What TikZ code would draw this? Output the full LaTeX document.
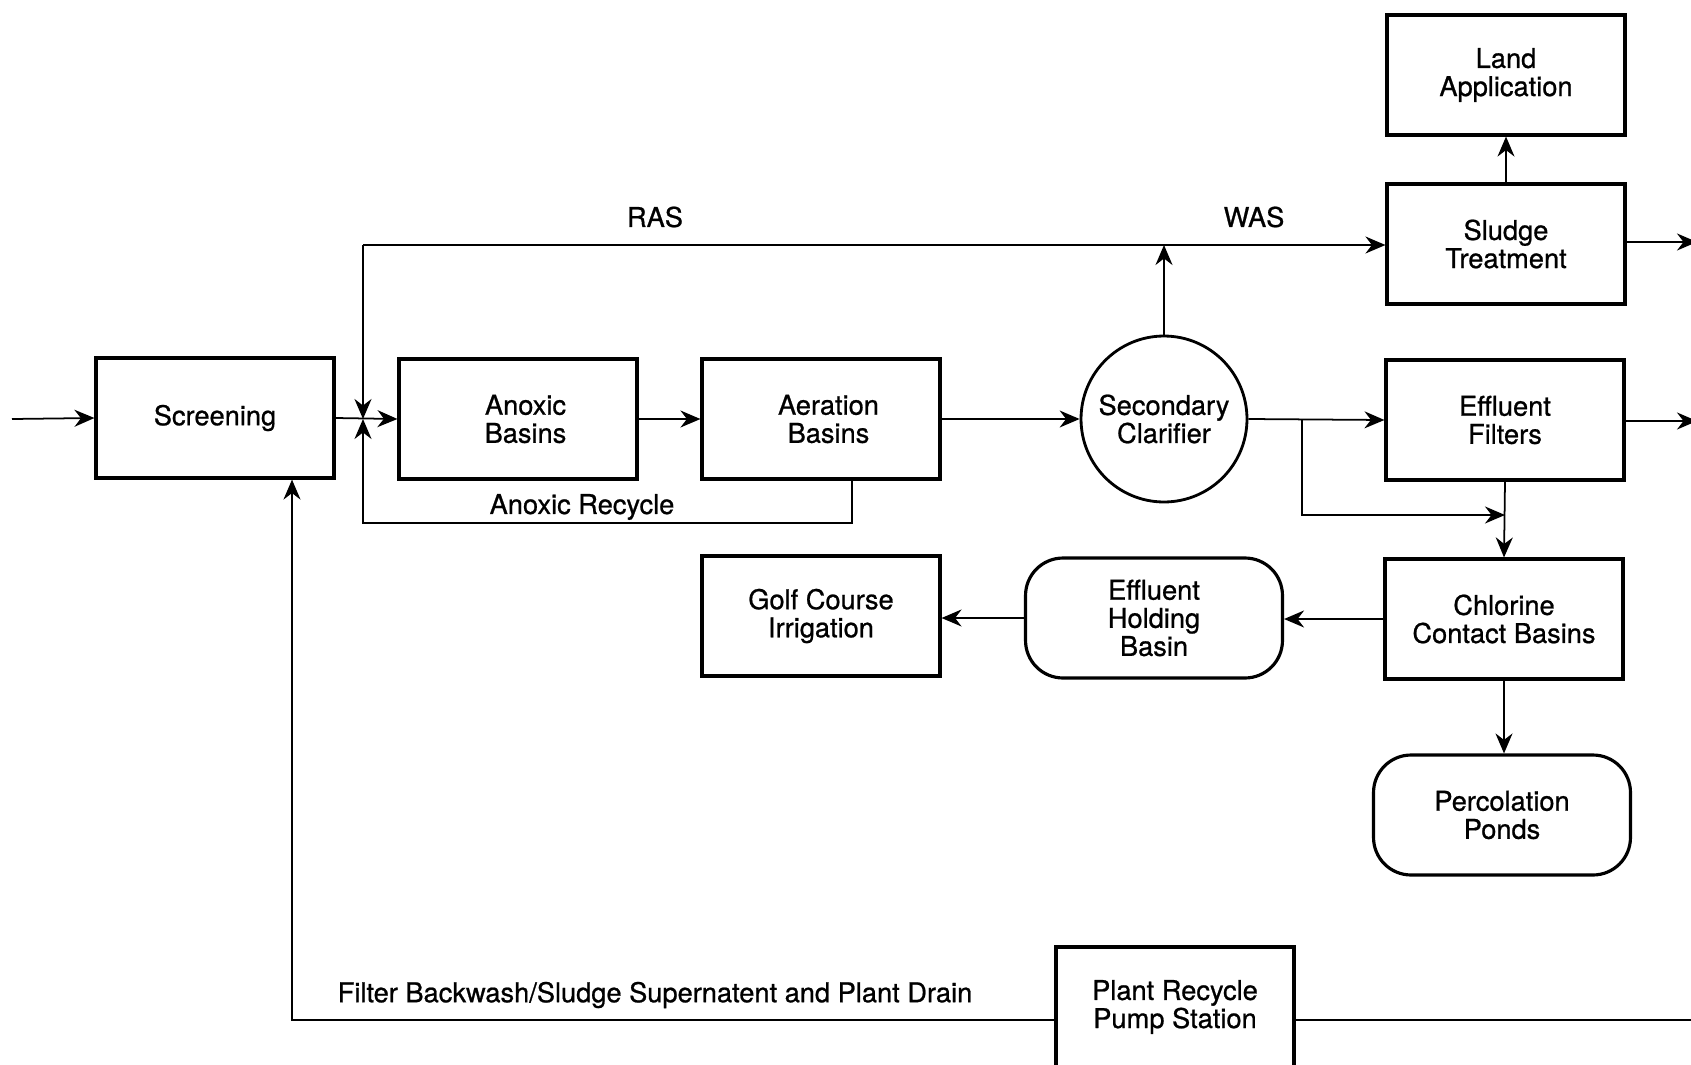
\documentclass[tikz,border=0pt]{standalone}
\usepackage{fontspec}
\setmainfont{TeX Gyre Heros}[FakeBold=0.8]
\usetikzlibrary{arrows.meta}

\begin{document}
\begin{tikzpicture}
        [x=0.02cm,y=-0.02cm,
         every node/.style={font=\fontsize{15.5}{16}\selectfont,align=center,inner sep=0},
         box/.style={draw,line width=1.8pt,minimum width=4.76cm,minimum height=2.4cm},
         pond/.style={box,rounded corners=0.75cm,minimum width=5.14cm},
         tank/.style={draw,circle,line width=1.6pt,minimum size=3.32cm},
         pipe/.style={line width=1pt},
         flow/.style={pipe,-{Stealth[length=0.4cm,width=0.34cm,inset=0.13cm]}}]

        \useasboundingbox (0,0) rectangle (1691,1065);

        \node[box] (scr) at (215, 418) {Screening};
        \node[box] (anox) at (518, 419) {\hspace*{0.3cm}Anoxic\\\hspace*{0.3cm}Basins};
        \node[box] (aer) at (821, 419) {\hspace*{0.3cm}Aeration\\\hspace*{0.3cm}Basins};
        \node[tank] (clar) at (1164, 419) {Secondary\\Clarifier};
        \node[box] (filt) at (1505, 420) {Effluent\\Filters};
        \node[box] (sludge) at (1506, 244) {Sludge\\Treatment};
        \node[box] (land) at (1506, 75) {Land\\Application};
        \node[box] (chl) at (1504, 619) {Chlorine\\Contact Basins};
        \node[pond] (hold) at (1154, 618) {Effluent\\Holding\\Basin};
        \node[box] (golf) at (821, 616) {Golf Course\\Irrigation};
        \node[pond] (perc) at (1502, 815) {Percolation\\Ponds};
        \node[box] (pump) at (1175, 1007) {Plant Recycle\\Pump Station};

        \node (ras) at (655, 217) {RAS};
        \node (was) at (1254, 217) {WAS};
        \node (anrec) at (582, 507) {Anoxic Recycle};
        \node (back) at (655, 995) {Filter Backwash/Sludge Supernatent and Plant Drain};

        \coordinate (in) at (12, 419);
        \coordinate (jn) at (363, 419);
        \coordinate (rtop) at (363, 245);
        \coordinate (wtop) at (1164, 245);
        \coordinate (rbot) at (363, 523);
        \coordinate (abot) at (852, 523);
        \coordinate (br) at (1302, 420);
        \coordinate (brend) at (1505, 515);
        \coordinate (dout) at (292, 1020);
        \coordinate (sout) at (1697, 242);
        \coordinate (fout) at (1697, 421);
        \coordinate (pout) at (1691, 1020);

        \draw[flow] (in) -- (scr.west);
        \draw[flow] (scr.east) -- (anox.west);
        \draw[flow] (anox) -- (aer);
        \draw[flow] (aer) -- (clar);
        \draw[flow] (clar.east) -- (filt.west |- br);
        \draw[flow] (clar.north) -- (wtop);
        \draw[flow] (rtop) -- (sludge.west |- rtop);
        \draw[flow] (rtop) -- (jn);
        \draw[flow] (aer.south -| abot) -- (abot) -- (rbot) -- (jn);
        \draw[flow] (br) |- (brend);
        \draw[flow] (filt.south) -- (chl.north);
        \draw[flow] (chl.west) -- (hold.east |- chl.west);
        \draw[flow] (hold.west) -- (golf.east |- hold.west);
        \draw[flow] (chl.south) -- (perc.north -| chl.south);
        \draw[flow] (sludge.north) -- (land.south);
        \draw[flow] (sludge.east |- sout) -- (sout);
        \draw[flow] (filt.east |- fout) -- (fout);
        \draw[flow] (pump.west |- dout) -- (dout) -- (scr.south -| dout);
        \draw[pipe] (pump.east |- pout) -- (pout);
      \end{tikzpicture}
\end{document}
